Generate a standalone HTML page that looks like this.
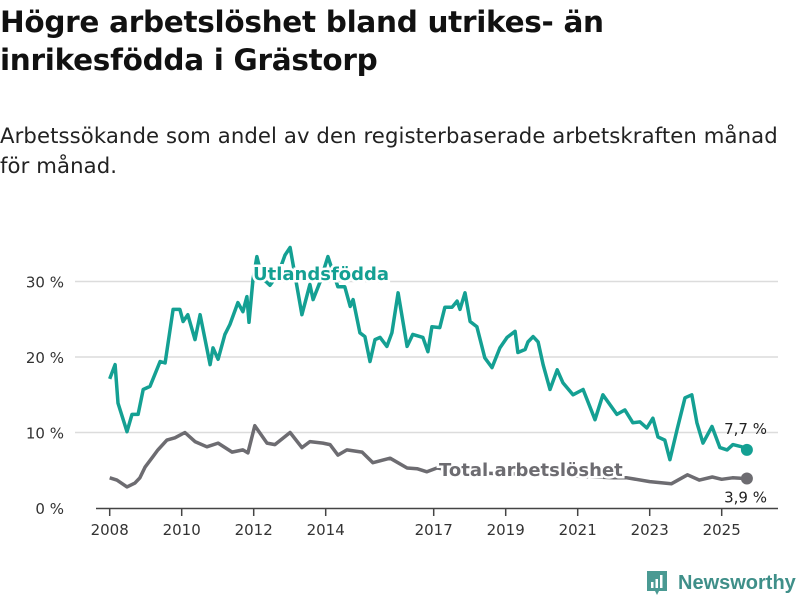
<!DOCTYPE html>
<html><head><meta charset="utf-8"><style>
body{margin:0;width:800px;height:600px;background:#fff;overflow:hidden;font-family:"DejaVu Sans","Liberation Sans",sans-serif;color:#111}
#title{position:absolute;left:0;top:3px;font-size:29.5px;font-weight:bold;line-height:38px;margin:0;letter-spacing:-0.3px}
#subtitle{position:absolute;left:0;top:121px;font-size:21.2px;line-height:30px;margin:0;color:#222;letter-spacing:0.1px}
svg{position:absolute;left:0;top:0}
</style></head><body>
<h1 id="title">Högre arbetslöshet bland utrikes- än<br>inrikesfödda i Grästorp</h1>
<p id="subtitle">Arbetssökande som andel av den registerbaserade arbetskraften månad<br>för månad.</p>
<svg id="chart" width="800" height="600" font-family="DejaVu Sans, Liberation Sans, sans-serif"></svg>
<script>
const foreignYears=[0,0.15,0.23,0.48,0.62,0.79,0.93,1.12,1.40,1.54,1.76,1.95,2.04,2.17,2.37,2.51,2.79,2.87,3.01,3.20,3.34,3.56,3.70,3.81,3.87,3.98,4.09,4.23,4.45,4.68,4.87,5.01,5.34,5.56,5.65,5.84,6.06,6.34,6.53,6.68,6.76,6.95,7.09,7.23,7.37,7.51,7.70,7.84,8.01,8.26,8.42,8.70,8.84,8.95,9.17,9.31,9.51,9.65,9.73,9.87,10.01,10.20,10.42,10.62,10.84,11.04,11.26,11.34,11.54,11.62,11.76,11.90,12.04,12.23,12.43,12.59,12.87,13.15,13.48,13.70,14.09,14.31,14.53,14.73,14.92,15.09,15.23,15.42,15.56,15.76,15.98,16.17,16.31,16.48,16.73,16.95,17.15,17.31,17.56,17.70];
const foreignValues=[17.1,19.0,13.9,10.1,12.4,12.4,15.7,16.1,19.4,19.2,26.3,26.3,24.7,25.6,22.3,25.6,19.0,21.2,19.7,23.0,24.3,27.2,26.0,28.0,24.6,30.3,33.3,30.5,29.5,31.0,33.5,34.5,25.6,29.6,27.6,29.9,33.3,29.3,29.3,26.7,27.6,23.2,22.7,19.4,22.3,22.6,21.4,23.2,28.5,21.4,23.0,22.6,20.7,24.0,23.9,26.6,26.6,27.4,26.3,28.5,24.7,24.0,19.9,18.6,21.2,22.6,23.4,20.6,21.0,22.0,22.7,22.0,19.0,15.7,18.3,16.6,15.0,15.7,11.7,15.0,12.4,13.0,11.3,11.4,10.6,11.9,9.4,9.0,6.4,10.4,14.6,15.0,11.3,8.6,10.8,8.0,7.7,8.4,8.1,7.7];
const totalYears=[0,0.2,0.48,0.7,0.84,0.98,1.2,1.34,1.59,1.81,2.09,2.37,2.70,3.01,3.40,3.70,3.84,4.03,4.37,4.59,5.01,5.34,5.56,5.92,6.12,6.34,6.59,7.01,7.31,7.79,8.26,8.54,8.81,9.09,10.0,11.0,12.0,13.0,14.0,14.37,15.0,15.6,16.05,16.38,16.74,17.0,17.3,17.7];
const totalValues=[4.0,3.7,2.8,3.3,4.0,5.4,6.8,7.7,9.0,9.3,10.0,8.8,8.1,8.6,7.4,7.7,7.3,10.9,8.6,8.4,10.0,8.0,8.8,8.6,8.4,7.0,7.7,7.4,6.0,6.6,5.3,5.2,4.8,5.3,4.7,4.5,4.6,4.2,4.0,4.0,3.5,3.2,4.4,3.7,4.1,3.8,4.0,3.9];
const yTicks=[0,10,20,30];
const yTickLabels=["0 %","10 %","20 %","30 %"];
const xTicks=[2008,2010,2012,2014,2017,2019,2021,2023,2025];
const NS="http://www.w3.org/2000/svg";
const svg=document.getElementById('chart');
const x=t=>109.7+t*36;
const xy=yr=>x(yr-2008);
const y=v=>508-v*7.55;
function mk(tag,attrs,parent){const e=document.createElementNS(NS,tag);for(const k in attrs)e.setAttribute(k,attrs[k]);(parent||svg).appendChild(e);return e;}
yTicks.forEach((v,i)=>{
  if(v>0){const g=mk('line',{x1:75,x2:778,y1:y(v),y2:y(v),stroke:'#dcdcdc','stroke-width':1.5});
  
  }
  const t=mk('text',{x:64,y:y(v)+6,'text-anchor':'end','font-size':15,fill:'#333'});
  t.textContent=yTickLabels[i];
  
  
});
const ax=mk('line',{x1:96,x2:778,y1:508.5,y2:508.5,stroke:'#444','stroke-width':1.5});


xTicks.forEach(yr=>{
  const tk=mk('line',{x1:xy(yr),x2:xy(yr),y1:508,y2:516,stroke:'#444','stroke-width':1.5});
  
  
  const t=mk('text',{x:xy(yr),y:535,'text-anchor':'middle','font-size':15,fill:'#333'});
  t.textContent=yr;
  
  
});
function path(ys,vs){return ys.map((t,i)=>(i?'L':'M')+x(t).toFixed(1)+','+y(vs[i]).toFixed(1)).join('');}
const pf=mk('path',{d:path(foreignYears,foreignValues),fill:'none',stroke:'#14a093','stroke-width':3.5,'stroke-linejoin':'round'});


const pt=mk('path',{d:path(totalYears,totalValues),fill:'none',stroke:'#6d6c71','stroke-width':3.5,'stroke-linejoin':'round'});


const lf=foreignYears.length-1,lt=totalYears.length-1;
const df=mk('circle',{cx:x(foreignYears[lf]),cy:y(foreignValues[lf]),r:6,fill:'#14a093'});


const dt=mk('circle',{cx:x(totalYears[lt]),cy:y(totalValues[lt]),r:6,fill:'#6d6c71'});


const vf=mk('text',{x:767,y:y(foreignValues[lf])-16,'text-anchor':'end','font-size':15,fill:'#222'});
vf.textContent=foreignValues[lf].toString().replace('.',',')+' %';


const vt=mk('text',{x:767,y:y(totalValues[lt])+24,'text-anchor':'end','font-size':15,fill:'#222'});
vt.textContent=totalValues[lt].toString().replace('.',',')+' %';


const l1=mk('text',{x:253,y:280,'font-size':18,'font-weight':'bold',fill:'#14a093',stroke:'#fff','stroke-width':5,'paint-order':'stroke'});
l1.textContent='Utlandsfödda';


const l2=mk('text',{x:439,y:476,'font-size':18,'font-weight':'bold',fill:'#6d6c71',stroke:'#fff','stroke-width':5,'paint-order':'stroke'});
l2.textContent='Total arbetslöshet';


</script>
<div style="position:absolute;left:645px;top:569px;display:flex;align-items:center">
<svg width="24" height="28" viewBox="0 0 24 28" style="position:static"><path d="M2 2h20v20h-8l-2 4-2-4H2z" fill="#4a9a93"/><rect x="6" y="13" width="2.5" height="6" fill="#fff"/><rect x="10.5" y="10" width="2.5" height="9" fill="#fff"/><rect x="15" y="6" width="2.5" height="13" fill="#fff"/></svg>
<span style="margin-left:9px;font-family:'Liberation Sans',sans-serif;font-size:20px;font-weight:bold;color:#3f8f89">Newsworthy</span></div>
</body></html>
